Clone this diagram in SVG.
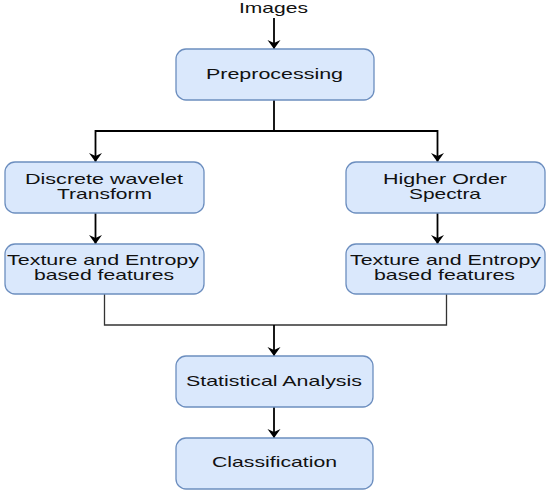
<svg xmlns="http://www.w3.org/2000/svg" width="550" height="495" viewBox="0 0 550 495">
<style>
.box{fill:#dae8fc;stroke:#6c8ebf;stroke-width:1.3}
.t{font-family:"Liberation Sans",Arial,sans-serif;font-size:14.5px;fill:#111;text-anchor:middle}
.c{fill:none;stroke:#000;stroke-width:1.8}
.j{fill:none;stroke:#333;stroke-width:1.3}
</style>
<defs>
<marker id="ah" viewBox="0 0 9 14" refX="9" refY="7" markerWidth="9" markerHeight="14" markerUnits="userSpaceOnUse" orient="auto">
<path d="M0,0.5 L9,7 L0,13.5 L3,7 z" fill="#000"/>
</marker>
</defs>
<rect width="550" height="495" fill="#fff"/>
<g id="connectors">
<line class="c" x1="274" y1="18" x2="274" y2="49" marker-end="url(#ah)"/>
<polyline class="c" points="274,100 274,131"/>
<polyline class="c" points="274,131 95.5,131 95.5,162" marker-end="url(#ah)"/>
<polyline class="c" points="274,131 437.5,131 437.5,162" marker-end="url(#ah)"/>
<line class="c" x1="95.5" y1="213" x2="95.5" y2="244" marker-end="url(#ah)"/>
<line class="c" x1="437.5" y1="213" x2="437.5" y2="244" marker-end="url(#ah)"/>
<polyline class="j" points="104.5,294 104.5,325 446.5,325 446.5,294"/>
<line class="c" x1="274" y1="325" x2="274" y2="356" marker-end="url(#ah)"/>
<line class="c" x1="274" y1="407" x2="274" y2="438" marker-end="url(#ah)"/>
</g>
<g id="images"><text class="t" x="273.5" y="13" textLength="69" lengthAdjust="spacingAndGlyphs">Images</text></g>
<g id="preprocessing">
<rect class="box" x="176" y="49" width="198" height="51" rx="10"/>
<text class="t" x="274.5" y="79" textLength="137" lengthAdjust="spacingAndGlyphs">Preprocessing</text>
</g>
<g id="dwt">
<rect class="box" x="5" y="162" width="199" height="51" rx="10"/>
<text class="t" x="104" y="184" textLength="158" lengthAdjust="spacingAndGlyphs">Discrete wavelet</text>
<text class="t" x="104.5" y="199" textLength="95" lengthAdjust="spacingAndGlyphs">Transform</text>
</g>
<g id="hos">
<rect class="box" x="346" y="162" width="199" height="51" rx="10"/>
<text class="t" x="445" y="184" textLength="124" lengthAdjust="spacingAndGlyphs">Higher Order</text>
<text class="t" x="445" y="199" textLength="72" lengthAdjust="spacingAndGlyphs">Spectra</text>
</g>
<g id="texture-left">
<rect class="box" x="5" y="244" width="199" height="50" rx="10"/>
<text class="t" x="103" y="265" textLength="192" lengthAdjust="spacingAndGlyphs">Texture and Entropy</text>
<text class="t" x="104" y="280" textLength="140" lengthAdjust="spacingAndGlyphs">based features</text>
</g>
<g id="texture-right">
<rect class="box" x="346" y="244" width="199" height="50" rx="10"/>
<text class="t" x="445.5" y="265" textLength="191" lengthAdjust="spacingAndGlyphs">Texture and Entropy</text>
<text class="t" x="444.5" y="280" textLength="141" lengthAdjust="spacingAndGlyphs">based features</text>
</g>
<g id="statistical">
<rect class="box" x="176" y="356" width="197" height="51" rx="10"/>
<text class="t" x="274" y="386" textLength="176" lengthAdjust="spacingAndGlyphs">Statistical Analysis</text>
</g>
<g id="classification">
<rect class="box" x="176" y="438" width="197" height="51" rx="10"/>
<text class="t" x="274.5" y="467" textLength="125" lengthAdjust="spacingAndGlyphs">Classification</text>
</g>
</svg>
